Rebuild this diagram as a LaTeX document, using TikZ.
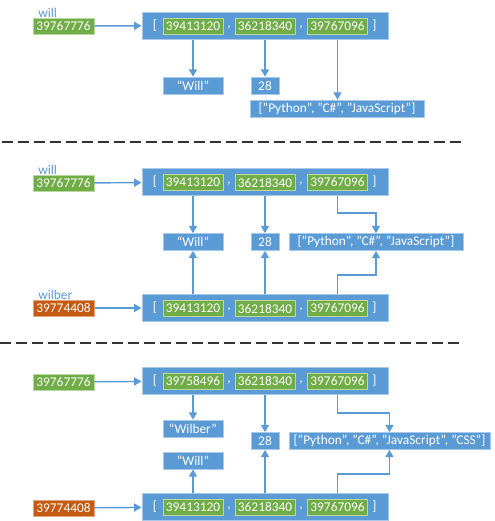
\documentclass[tikz,border=0pt]{standalone}
\usepackage{fontspec}
\setmainfont{Carlito}
\usetikzlibrary{arrows.meta}
\definecolor{oblue}{HTML}{5B9BD5}
\definecolor{obluel}{HTML}{A9C9EA}
\definecolor{ogreen}{HTML}{70AD47}
\definecolor{ogreenl}{HTML}{B9D9A2}
\definecolor{oorange}{HTML}{C55A11}
\definecolor{oorangel}{HTML}{E2A57F}
\begin{document}
\begin{tikzpicture}[x=0.75pt,y=-0.75pt,
  font=\fontsize{10}{12}\selectfont,
  box/.style={inner sep=0pt,text=white,minimum height=12.75pt},
  bigbox/.style={box,fill=oblue,draw=obluel,line width=0.75pt,minimum width=184.5pt,minimum height=20.25pt},
  ptr/.style={box,fill=ogreen,draw=ogreenl,line width=0.75pt,minimum width=45pt,minimum height=12pt},
  var/.style={box,fill=ogreen,draw=ogreenl,line width=0.75pt,minimum width=45.75pt,minimum height=12pt},
  ovar/.style={var,fill=oorange,draw=oorangel},
  val/.style={box,fill=oblue,draw=obluel,line width=0.5pt},
  lbl/.style={inner sep=0pt,text=oblue,anchor=base west},
  br/.style={inner sep=0pt,text=white},
  conn/.style={draw=oblue,line width=1.1pt,-{Triangle[width=6pt,length=5.5pt]}},
  sep/.style={draw=black!80,line width=1.5pt,dash pattern=on 8pt off 4pt}
]
\useasboundingbox (0,0) rectangle (494,521);

% ---- generic builder macro for a list box
\newcommand{\listbox}[5]{%
  % #1 name, #2 cy, #3 a, #4 b, #5 c
  \node[bigbox] (#1) at (265,#2) {};
  \node[ptr] (#1a) at (193,#2+0.5) {#3};
  \node[ptr] (#1b) at (265,#2+0.5) {#4};
  \node[ptr] (#1c) at (337.5,#2+0.5) {#5};
  \node[br] (#1l) at (155,#2) {[};
  \node[br] (#1r) at (374.5,#2) {]};
  \node[br] (#1k) at (229,#2+2) {,};
  \node[br] (#1m) at (301,#2+2) {,};
}

% ================= Section 1
\node[lbl] (lw1) at (38,17) {will};
\node[var] (v1) at (63.5,26) {39767776};
\listbox{A}{25.5}{39413120}{36218340}{39767096}
\node[val,minimum width=45pt] (n1) at (193,85.5) {“Will”};
\node[val,minimum width=21pt] (a1) at (265,85.5) {28};
\node[val,minimum width=130.5pt] (l1) at (337,108.5) {["Python", "C\#", "JavaScript"]};
\draw[conn] (v1) -- (A);
\draw[conn] (Aa |- A.south) -- (n1.north);
\draw[conn] (Ab |- A.south) -- (a1.north);
\draw[conn] (Ac |- A.south) -- (Ac |- l1.north);

\coordinate (s1a) at (2,142);
\coordinate (s1b) at (462,142);
\draw[sep] (s1a) -- (s1b);

% ================= Section 2
\node[lbl] (lw2) at (38,174) {will};
\node[var] (v2) at (63.5,183) {39767776};
\listbox{B}{182}{39413120}{36218340}{39767096}
\node[val,minimum width=45pt] (n2) at (193,242) {“Will”};
\node[val,minimum width=21pt] (a2) at (265,242) {28};
\node[val,minimum width=130.5pt] (l2) at (376,242) {["Python", "C\#", "JavaScript"]};
\node[lbl] (lw3) at (38,299) {wilber};
\node[ovar] (v3) at (63.5,308) {39774408};
\listbox{C}{308}{39413120}{36218340}{39767096}
\draw[conn] (v2) -- (B);
\draw[conn] (Ba |- B.south) -- (n2.north);
\draw[conn] (Bb |- B.south) -- (a2.north);
\coordinate (k1) at (337.5,213);
\draw[conn] (Bc |- B.south) -- (k1) -| (l2.north);
\draw[conn] (v3) -- (C);
\draw[conn] (Ca |- C.north) -- (n2.south);
\draw[conn] (Cb |- C.north) -- (a2.south);
\coordinate (k2) at (337.5,275);
\draw[conn] (Cc |- C.north) -- (k2) -| (l2.south);

\coordinate (s2a) at (0,343);
\coordinate (s2b) at (460,343);
\draw[sep] (s2a) -- (s2b);

% ================= Section 3
\node[var] (v4) at (63.5,382) {39767776};
\listbox{D}{380.5}{39758496}{36218340}{39767096}
\node[val,minimum width=45pt] (n3) at (193,428.5) {“Wilber”};
\node[val,minimum width=21pt] (a3) at (265,441) {28};
\node[val,minimum width=150.75pt] (l3) at (389.5,441) {["Python", "C\#", "JavaScript", "CSS"]};
\node[val,minimum width=45pt] (n4) at (193,460.5) {“Will”};
\node[ovar] (v5) at (63.5,508) {39774408};
\listbox{E}{506.5}{39413120}{36218340}{39767096}
\draw[conn] (v4) -- (D);
\draw[conn] (Da |- D.south) -- (n3.north);
\draw[conn] (Db |- D.south) -- (a3.north);
\coordinate (k3) at (337.5,413);
\draw[conn] (Dc |- D.south) -- (k3) -| (l3.north);
\draw[conn] (v5) -- (E);
\draw[conn] (Ea |- E.north) -- (n4.south);
\draw[conn] (Eb |- E.north) -- (a3.south);
\coordinate (k4) at (337.5,474);
\draw[conn] (Ec |- E.north) -- (k4) -| (l3.south);
\end{tikzpicture}
\end{document}
